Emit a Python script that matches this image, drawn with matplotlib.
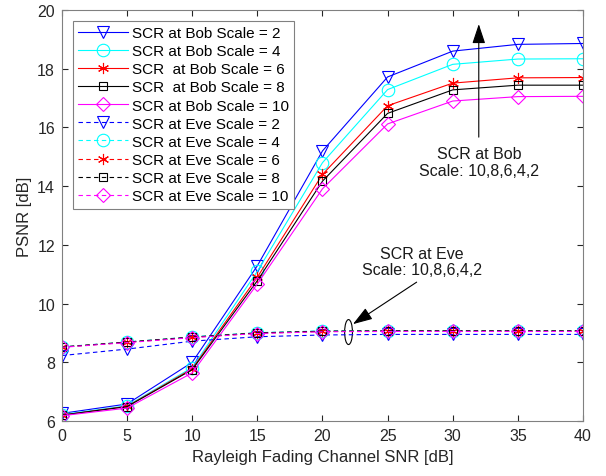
import matplotlib
matplotlib.use("Agg")
import matplotlib.pyplot as plt
from matplotlib.patches import Ellipse

plt.rcParams['font.family'] = ['Liberation Sans', 'DejaVu Sans']

snr = [0, 5, 10, 15, 20, 25, 30, 35, 40]
scales = [2, 4, 6, 8, 10]

bob = {
    2:  [6.26, 6.58, 8.00, 11.29, 15.20, 17.72, 18.60, 18.83, 18.86],
    4:  [6.22, 6.52, 7.82, 11.10, 14.80, 17.29, 18.15, 18.33, 18.34],
    6:  [6.20, 6.50, 7.78, 10.90, 14.40, 16.74, 17.51, 17.69, 17.70],
    8:  [6.20, 6.49, 7.75, 10.78, 14.17, 16.48, 17.28, 17.44, 17.44],
    10: [6.18, 6.44, 7.64, 10.67, 13.91, 16.12, 16.90, 17.05, 17.06],
}
eve = {
    2:  [8.23, 8.45, 8.72, 8.87, 8.93, 8.95, 8.95, 8.95, 8.95],
    4:  [8.53, 8.69, 8.87, 9.01, 9.07, 9.08, 9.08, 9.08, 9.08],
    6:  [8.52, 8.68, 8.85, 8.99, 9.05, 9.06, 9.06, 9.06, 9.06],
    8:  [8.52, 8.69, 8.86, 9.00, 9.06, 9.07, 9.07, 9.07, 9.07],
    10: [8.51, 8.67, 8.84, 8.98, 9.04, 9.05, 9.05, 9.05, 9.05],
}
bob_labels = ["SCR at Bob Scale = 2", "SCR at Bob Scale = 4", "SCR  at Bob Scale = 6",
              "SCR  at Bob Scale = 8", "SCR at Bob Scale = 10"]
eve_labels = ["SCR at Eve Scale = 2", "SCR at Eve Scale = 4", "SCR at Eve Scale = 6",
              "SCR at Eve Scale = 8", "SCR at Eve Scale = 10"]

colors = ['#0000FF', '#00FFFF', '#FF0000', '#000000', '#FF00FF']
markers = ['v', 'o', (6, 2, 0), 's', 'D']
msizes = [9, 9, 8, 6, 7]

fig = plt.figure(figsize=(6.06, 4.77), dpi=100)
ax = fig.add_axes([0.1023, 0.1153, 0.8597, 0.8616])

for s, lab, c, m, ms in zip(scales, bob_labels, colors, markers, msizes):
    ax.plot(snr, bob[s], '-', color=c, marker=m, ms=ms, mfc='none', mec=c,
            lw=0.8, mew=0.8, label=lab)
for s, lab, c, m, ms in zip(scales, eve_labels, colors, markers, msizes):
    ax.plot(snr, eve[s], '--', color=c, marker=m, ms=ms, mfc='none', mec=c,
            lw=0.8, mew=0.8, label=lab, dashes=(4, 3))

ax.set_xlim(0, 40)
ax.set_ylim(6, 20)
ax.set_xticks(range(0, 41, 5))
ax.set_yticks(range(6, 21, 2))
ax.tick_params(direction='in', top=True, right=True, labelsize=11.5, colors='#262626',
               length=4, pad=5)
for sp in ax.spines.values():
    sp.set_color('#808080')
    sp.set_linewidth(0.8)
ax.set_xlabel('Rayleigh Fading Channel SNR [dB]', fontsize=12, color='#262626')
ax.set_ylabel('PSNR [dB]', fontsize=12, color='#262626')

leg = ax.legend(loc='upper left', fontsize=11, handlelength=3.3, labelspacing=0.27,
                borderaxespad=0.7, fancybox=False, edgecolor='#808080', framealpha=1,
                handletextpad=0.2, borderpad=0.35)
leg.get_frame().set_linewidth(0.8)

# Bob annotation
ax.annotate('', xy=(32.0, 19.52), xytext=(32.0, 15.67),
            arrowprops=dict(arrowstyle='-|>,head_length=1.2,head_width=0.4',
                            color='black', lw=0.8, shrinkA=0, shrinkB=0))
ax.text(32.0, 14.82, 'SCR at Bob\nScale: 10,8,6,4,2', ha='center', va='center',
        fontsize=11.5, linespacing=1.15, color='#1a1a1a')

# Eve annotation
ax.text(27.63, 11.43, 'SCR at Eve\nScale: 10,8,6,4,2', ha='center', va='center',
        fontsize=11.5, linespacing=1.15, color='#1a1a1a')
ax.annotate('', xy=(22.34, 9.30), xytext=(27.23, 10.73),
            arrowprops=dict(arrowstyle='-|>,head_length=1.2,head_width=0.4',
                            color='black', lw=0.8, shrinkA=0, shrinkB=0))
ax.add_patch(Ellipse((22.0, 9.03), 0.6, 0.85, fill=False, ec='black', lw=0.8))

fig.savefig('out.png', dpi=100)
